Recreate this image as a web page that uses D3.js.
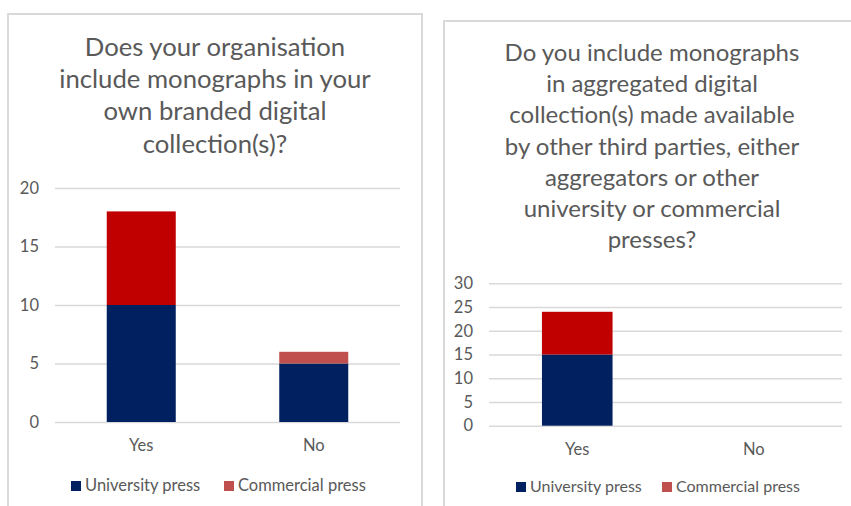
<!DOCTYPE html>
<html>
<head>
<meta charset="utf-8">
<script src="https://cdn.jsdelivr.net/npm/d3@7"></script>
<style>
  html, body { margin: 0; padding: 0; background: #ffffff; }
  svg { display: block; font-family: Lato, "Open Sans", sans-serif; }
</style>
</head>
<body>
<svg id="chart" width="851" height="506"></svg>
<script>
// Survey answers, counted by type of press
const categories = ["Yes", "No"];
const seriesNames = ["University press", "Commercial press"];

const ownUniversity = [10, 5];
const ownCommercial = [8, 1];
const ownTicks = [0, 5, 10, 15, 20];
const ownTitle = ["Does your organisation", "include monographs in your", "own branded digital", "collection(s)?"];

const aggUniversity = [15, 0];
const aggCommercial = [9, 0];
const aggTicks = [0, 5, 10, 15, 20, 25, 30];
const aggTitle = ["Do you include monographs", "in aggregated digital", "collection(s) made available",
  "by other third parties, either", "aggregators or other", "university or commercial", "presses?"];

// Palette: navy for university presses, red for commercial; the "Yes" commercial bar uses a deeper red
const universityColor = "#002060";
const commercialColor = "#C0504D";
const commercialColorsByCategory = ["#C00000", "#C0504D"];
const textColor = "#595959";
const gridColor = "#D9D9D9";

const svg = d3.select("#chart");

function drawPanel(opt) {
  const g = svg.append("g");

  // panel frame (left and top edges visible; the rest runs off the canvas)
  g.append("rect")
    .attr("x", opt.frame.x).attr("y", opt.frame.y)
    .attr("width", opt.frame.w).attr("height", opt.frame.h)
    .attr("fill", "#ffffff").attr("stroke", gridColor).attr("stroke-width", 2);

  // title
  const title = g.append("text")
    .attr("text-anchor", "middle")
    .attr("fill", textColor)
    .style("font-size", opt.titleSize + "px");
  opt.title.forEach((line, i) => {
    title.append("tspan")
      .attr("x", opt.titleX)
      .attr("y", opt.titleY + i * opt.titleStep)
      .text(line);
  });

  const x = d3.scaleBand()
    .domain(categories)
    .range([opt.plot.left, opt.plot.right])
    .paddingInner(0.6)
    .paddingOuter(0.3);

  const y = d3.scaleLinear()
    .domain([0, d3.max(opt.ticks)])
    .range([opt.plot.bottom, opt.plot.top]);

  // gridlines + value labels
  const yAxis = d3.axisLeft(y).tickValues(opt.ticks).tickSize(-(opt.plot.right - opt.plot.left)).tickPadding(opt.tickPad);
  const ya = g.append("g")
    .attr("transform", `translate(${opt.plot.left},0)`)
    .call(yAxis);
  ya.select(".domain").remove();
  ya.selectAll(".tick line").attr("stroke", gridColor).attr("stroke-width", 1.5);
  ya.selectAll(".tick text").attr("fill", textColor).style("font-size", opt.labelSize + "px").style("font-family", "Lato, sans-serif");

  // stacked bars
  const rows = categories.map((c, i) => ({ category: c, University: opt.university[i], Commercial: opt.commercial[i] }));
  const stacked = d3.stack().keys(["University", "Commercial"])(rows);

  stacked.forEach(layer => {
    g.append("g").selectAll("rect")
      .data(layer.filter(d => d[1] - d[0] > 0))
      .join("rect")
      .attr("x", d => x(d.data.category))
      .attr("width", x.bandwidth())
      .attr("y", d => y(d[1]))
      .attr("height", d => y(d[0]) - y(d[1]))
      .attr("fill", d => layer.key === "University"
        ? universityColor
        : commercialColorsByCategory[categories.indexOf(d.data.category)]);
  });

  // category labels
  const xAxis = d3.axisBottom(x).tickSize(0).tickPadding(0);
  const xa = g.append("g")
    .attr("transform", `translate(0,${opt.catY})`)
    .call(xAxis);
  xa.select(".domain").remove();
  xa.selectAll(".tick text").attr("fill", textColor).style("font-size", opt.labelSize + "px")
    .style("font-family", "Lato, sans-serif").attr("dy", "0");

  // legend
  const legendColors = [universityColor, commercialColor];
  seriesNames.forEach((name, i) => {
    const lx = opt.legendX[i];
    g.append("rect")
      .attr("x", lx).attr("y", opt.legendY - 10)
      .attr("width", 10).attr("height", 10)
      .attr("fill", legendColors[i]);
    g.append("text")
      .attr("x", lx + 14).attr("y", opt.legendY)
      .attr("fill", textColor)
      .style("font-size", opt.legendSize + "px")
      .text(name);
  });
}

drawPanel({
  frame: { x: 8, y: 14, w: 414, h: 520 },
  title: ownTitle, titleX: 215, titleY: 56, titleStep: 32.2, titleSize: 25.7,
  plot: { left: 55, right: 400, top: 188, bottom: 422 },
  ticks: ownTicks, tickPad: 16, labelSize: 16.5,
  university: ownUniversity, commercial: ownCommercial,
  catY: 451, legendX: [71, 224], legendY: 491, legendSize: 16.5
});

drawPanel({
  frame: { x: 444, y: 21, w: 430, h: 520 },
  title: aggTitle, titleX: 652, titleY: 61, titleStep: 31.2, titleSize: 24,
  plot: { left: 489, right: 842, top: 283.3, bottom: 425.7 },
  ticks: aggTicks, tickPad: 16, labelSize: 16.5,
  university: aggUniversity, commercial: aggCommercial,
  catY: 455, legendX: [516, 662], legendY: 492, legendSize: 16
});
</script>
</body>
</html>
